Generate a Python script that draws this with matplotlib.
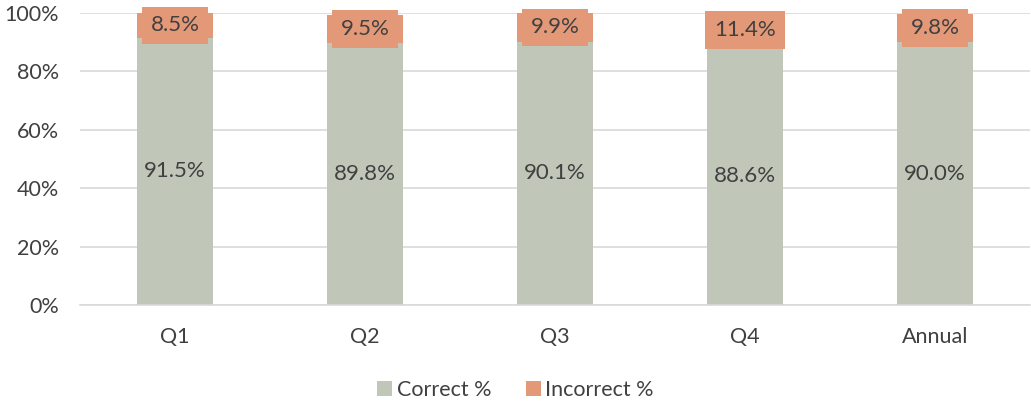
import matplotlib.pyplot as plt
from matplotlib.ticker import FuncFormatter

# --- Data --------------------------------------------------------------------
categories = ["Q1", "Q2", "Q3", "Q4", "Annual"]
correct = [91.5, 89.8, 90.1, 88.6, 90.0]
incorrect = [8.5, 9.5, 9.9, 11.4, 9.8]
# -----------------------------------------------------------------------------

GREEN = "#C0C7B8"
ORANGE = "#E39877"
TEXT = "#404040"

plt.rcParams["font.family"] = ["Lato", "DejaVu Sans"]

fig = plt.figure(figsize=(10.31, 4.01), dpi=100)
ax = fig.add_axes([0.0776, 0.2394, 0.9215, 0.7282])

x = range(len(categories))
b1 = ax.bar(x, correct, width=0.4, color=GREEN, label="Correct %", zorder=2)
b2 = ax.bar(x, incorrect, width=0.4, bottom=correct, color=ORANGE,
            label="Incorrect %", zorder=2)

for i, (c, w) in enumerate(zip(correct, incorrect)):
    ax.text(i, c / 2, f"{c:.1f}%", ha="center", va="center",
            fontsize=16, color=TEXT, zorder=3)
    ax.text(i, c + w / 2, f"{w:.1f}%", ha="center", va="center",
            fontsize=16, color=TEXT, zorder=3,
            bbox=dict(boxstyle="square,pad=0.4", fc=ORANGE, ec="none"))

ax.set_xlim(-0.5, len(categories) - 0.5)
ax.set_ylim(0, 100)
ax.set_yticks(range(0, 101, 20))
ax.yaxis.set_major_formatter(FuncFormatter(lambda v, _: f"{v:.0f}%"))
ax.set_xticks(list(x))
ax.set_xticklabels(categories)
ax.grid(axis="y", color="#D9D9D9", linewidth=1.2, zorder=0)
for s in ["top", "right", "left"]:
    ax.spines[s].set_visible(False)
ax.spines["bottom"].set_color("#D9D9D9")
ax.spines["bottom"].set_linewidth(1.2)
ax.tick_params(axis="both", length=0, labelsize=15.5, colors=TEXT)
ax.tick_params(axis="x", pad=16)
ax.tick_params(axis="y", pad=15)

fig.legend(handles=[b1, b2], loc="lower center", bbox_to_anchor=(0.5, -0.045),
           ncol=2, frameon=False, fontsize=15.5, labelcolor=TEXT,
           handlelength=0.7, handleheight=0.7, handletextpad=0.2,
           columnspacing=1.6)

fig.savefig("out.png", dpi=100)
